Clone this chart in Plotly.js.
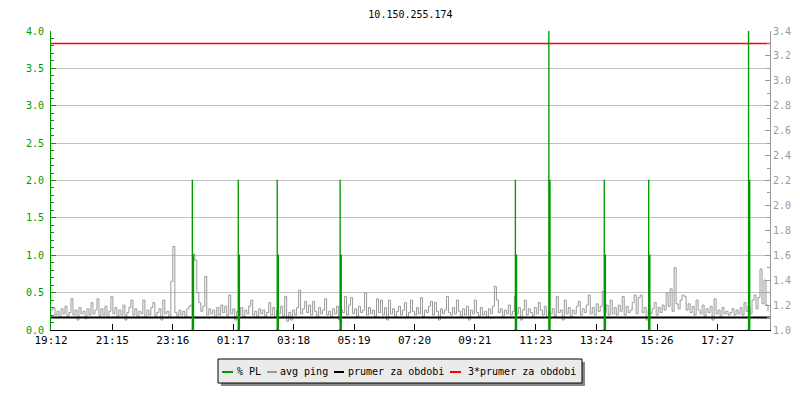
<!DOCTYPE html>
<html>
<head>
<meta charset="utf-8">
<script src="https://cdn.plot.ly/plotly-3.0.1.min.js"></script>
<style>html,body{margin:0;padding:0;background:#fff;}#chart{width:800px;height:400px;}</style>
</head>
<body>
<div id="chart"></div>
<script>
// ---------- DATA ----------
const chartTitle = '10.150.255.174';
// x axis: minutes since 19:12
const tickMinutes = [0, 123, 244, 365, 486, 607, 728, 849, 971, 1092, 1214, 1335];
const tickLabels = ['19:12', '21:15', '23:16', '01:17', '03:18', '05:19', '07:20', '09:21', '11:23', '13:24', '15:26', '17:27'];
const rangeMinutes = 1440;

// avg ping (right axis), one sample every 4 minutes
const pingStepMinutes = 4;
const avgPing = [
  1.16,1.18,1.12,1.15,1.10,1.17,1.13,1.19,1.11,1.14,1.25,1.12,1.16,1.08,1.18,1.13,1.15,1.09,1.17,1.12,
  1.22,1.13,1.16,1.25,1.11,1.17,1.12,1.19,1.10,1.15,1.27,1.13,1.18,1.11,1.16,1.12,1.20,1.08,1.14,1.18,
  1.24,1.12,1.17,1.11,1.15,1.13,1.24,1.10,1.16,1.12,1.18,1.22,1.11,1.14,1.17,1.08,1.24,1.13,1.15,1.11,
  1.39,1.67,1.14,1.11,1.16,1.12,1.15,1.10,1.17,1.19,1.20,1.61,1.56,1.30,1.22,1.15,1.19,1.43,1.12,1.17,
  1.13,1.16,1.10,1.18,1.12,1.20,1.14,1.19,1.11,1.28,1.13,1.17,1.08,1.15,1.12,1.18,1.11,1.16,1.13,1.19,
  1.24,1.12,1.15,1.10,1.17,1.13,1.16,1.11,1.14,1.22,1.12,1.18,1.10,1.16,1.13,1.19,1.11,1.27,1.07,1.14,
  1.08,1.16,1.12,1.18,1.32,1.13,1.17,1.23,1.14,1.20,1.12,1.23,1.15,1.11,1.18,1.13,1.16,1.25,1.12,1.15,
  1.11,1.17,1.13,1.19,1.08,1.16,1.14,1.27,1.12,1.20,1.26,1.13,1.17,1.11,1.19,1.14,1.16,1.30,1.12,1.18,
  1.13,1.16,1.11,1.25,1.14,1.24,1.12,1.18,1.08,1.24,1.13,1.17,1.11,1.15,1.19,1.12,1.16,1.22,1.11,1.14,
  1.24,1.15,1.12,1.18,1.13,1.26,1.11,1.16,1.14,1.19,1.23,1.12,1.22,1.15,1.08,1.17,1.13,1.16,1.27,1.14,
  1.12,1.18,1.13,1.24,1.15,1.11,1.17,1.12,1.19,1.08,1.16,1.13,1.24,1.14,1.11,1.18,1.12,1.15,1.10,1.17,
  1.13,1.19,1.35,1.24,1.14,1.17,1.11,1.16,1.13,1.20,1.12,1.15,1.27,1.13,1.18,1.08,1.16,1.24,1.12,1.17,
  1.14,1.11,1.18,1.13,1.22,1.16,1.12,1.19,1.10,1.15,1.13,1.17,1.11,1.27,1.14,1.16,1.08,1.24,1.13,1.18,
  1.11,1.16,1.13,1.19,1.23,1.12,1.17,1.14,1.20,1.28,1.13,1.18,1.12,1.21,1.15,1.19,1.31,1.14,1.20,1.12,
  1.24,1.13,1.18,1.12,1.20,1.15,1.27,1.12,1.19,1.14,1.16,1.22,1.28,1.13,1.26,1.28,1.14,1.18,1.08,1.16,
  1.13,1.17,1.22,1.12,1.18,1.14,1.20,1.16,1.30,1.19,1.33,1.15,1.50,1.21,1.17,1.24,1.28,1.27,1.16,1.21,
  1.14,1.19,1.12,1.24,1.16,1.13,1.20,1.11,1.17,1.14,1.19,1.08,1.25,1.13,1.16,1.11,1.18,1.13,1.15,1.12,
  1.14,1.17,1.12,1.16,1.13,1.18,1.12,1.22,1.15,1.19,1.13,1.24,1.28,1.17,1.26,1.49,1.21,1.40,1.20,1.15
];

// % packet loss (left axis): events (minute, peak sample, following sample)
const plMinutes = [283, 375, 453, 579, 930, 997, 1108, 1197, 1397];
const plPeak    = [2, 2, 2, 2, 2, 4, 2, 2, 4];
const plNext    = [1, 1, 1, 1, 1, 2, 1, 1, 2];

const periodAvg = 1.10;      // prumer za obdobi
const periodAvg3 = 3.30;     // 3*prumer za obdobi

const seriesNames = ['% PL', 'avg ping', 'prumer za obdobi', '3*prumer za obdobi'];

// ---------- STYLE ----------
const GREEN = '#009900', GRAY = '#999999', BLACK = '#000000', RED = '#ff0000';
const FONT = 'DejaVu Sans Mono, monospace';
const W = 800, H = 400, ML = 51, MR = 30, MT = 31, MB = 70;
const PW = W - ML - MR, PH = H - MT - MB;
const px = x => (x - ML) / PW;
const py = y => (H - MB - y) / PH;

// ---------- TRACES ----------
const pingX = avgPing.map((_, i) => i * pingStepMinutes);

const plX = [], plY = [];
plMinutes.forEach((m, k) => {
  plX.push(m - 2, m, m + 0.1, m + 2.4, m + 4);
  plY.push(0, plPeak[k], plNext[k], 0, null);
});

const traces = [
  {x: pingX, y: avgPing, type: 'scatter', mode: 'lines', name: seriesNames[1], yaxis: 'y',
   line: {color: GRAY, width: 1, shape: 'hv', simplify: false}, hoverinfo: 'skip', showlegend: false},
  {x: [0, rangeMinutes], y: [periodAvg, periodAvg], type: 'scatter', mode: 'lines', name: seriesNames[2], yaxis: 'y',
   line: {color: BLACK, width: 2}, hoverinfo: 'skip', showlegend: false},
  {x: [0, rangeMinutes], y: [periodAvg3, periodAvg3], type: 'scatter', mode: 'lines', name: seriesNames[3], yaxis: 'y',
   line: {color: RED, width: 1.5}, hoverinfo: 'skip', showlegend: false},
  {x: plX, y: plY, type: 'scatter', mode: 'lines', name: seriesNames[0], yaxis: 'y2', connectgaps: false,
   line: {color: GREEN, width: 1.3, shape: 'hv', simplify: false}, hoverinfo: 'skip', showlegend: false}
];

// ---------- CUSTOM LEGEND ----------
const legendColors = [GREEN, GRAY, BLACK, RED];
const legendDash = [[222, 233], [267, 277], [334, 344], [450, 461]];
const legendTextX = [235, 278, 346, 466];
const LY = 371;
const shapes = [
  {type: 'rect', xref: 'paper', yref: 'paper', x0: px(221), x1: px(585), y0: py(362), y1: py(386),
   fillcolor: '#888888', line: {width: 0}, layer: 'above'},
  {type: 'rect', xref: 'paper', yref: 'paper', x0: px(218), x1: px(582), y0: py(359), y1: py(383),
   fillcolor: '#ebebeb', line: {color: '#000', width: 1}, layer: 'above'}
];
const annotations = [];
seriesNames.forEach((n, k) => {
  shapes.push({type: 'line', xref: 'paper', yref: 'paper', x0: px(legendDash[k][0]), x1: px(legendDash[k][1]),
    y0: py(LY + 1), y1: py(LY + 1), line: {color: legendColors[k], width: 2}, layer: 'above'});
  annotations.push({xref: 'paper', yref: 'paper', x: px(legendTextX[k]), y: py(LY), xanchor: 'left', yanchor: 'middle',
    text: n, showarrow: false, font: {family: FONT, size: 10, color: '#000'}});
});

const layout = {
  width: W, height: H,
  margin: {l: ML, r: MR, t: MT, b: MB, pad: 0},
  paper_bgcolor: '#fff', plot_bgcolor: '#fff',
  showlegend: false,
  title: {text: chartTitle, x: (ML + PW / 2) / W, xanchor: 'center', y: 1 - 14 / H, yanchor: 'middle',
          font: {family: FONT, size: 10, color: '#000'}},
  xaxis: {range: [0, rangeMinutes], tickmode: 'array', tickvals: tickMinutes, ticktext: tickLabels,
          ticks: 'inside', ticklen: 6, tickcolor: '#000', showline: true, linecolor: '#000', linewidth: 1,
          showgrid: false, zeroline: false, tickfont: {family: FONT, size: 11, color: '#000'}, fixedrange: true},
  yaxis: {side: 'right', range: [1.0, 3.4], tick0: 1.0, dtick: 0.2, tickformat: '.1f',
          ticks: 'inside', ticklen: 5, tickcolor: GRAY, showline: true, linecolor: GRAY, linewidth: 1,
          showgrid: false, zeroline: false, tickfont: {family: FONT, size: 10, color: GRAY},
          minor: {dtick: 0.1, tick0: 1.0, ticks: 'inside', ticklen: 3, tickcolor: GRAY}, fixedrange: true},
  yaxis2: {overlaying: 'y', side: 'left', range: [0, 4], tick0: 0, dtick: 0.5, tickformat: '.1f',
           ticks: 'inside', ticklen: 5, tickcolor: GREEN, showline: true, linecolor: GREEN, linewidth: 1,
           showgrid: true, gridcolor: '#c0c0c0', gridwidth: 1, zeroline: false, ticklabelstandoff: 4,
           tickfont: {family: FONT, size: 10, color: GREEN},
           minor: {dtick: 0.1, tick0: 0, ticks: 'inside', ticklen: 3, tickcolor: GREEN}, fixedrange: true},
  shapes: shapes,
  annotations: annotations
};

Plotly.newPlot('chart', traces, layout, {staticPlot: true, displayModeBar: false});
</script>
</body>
</html>
